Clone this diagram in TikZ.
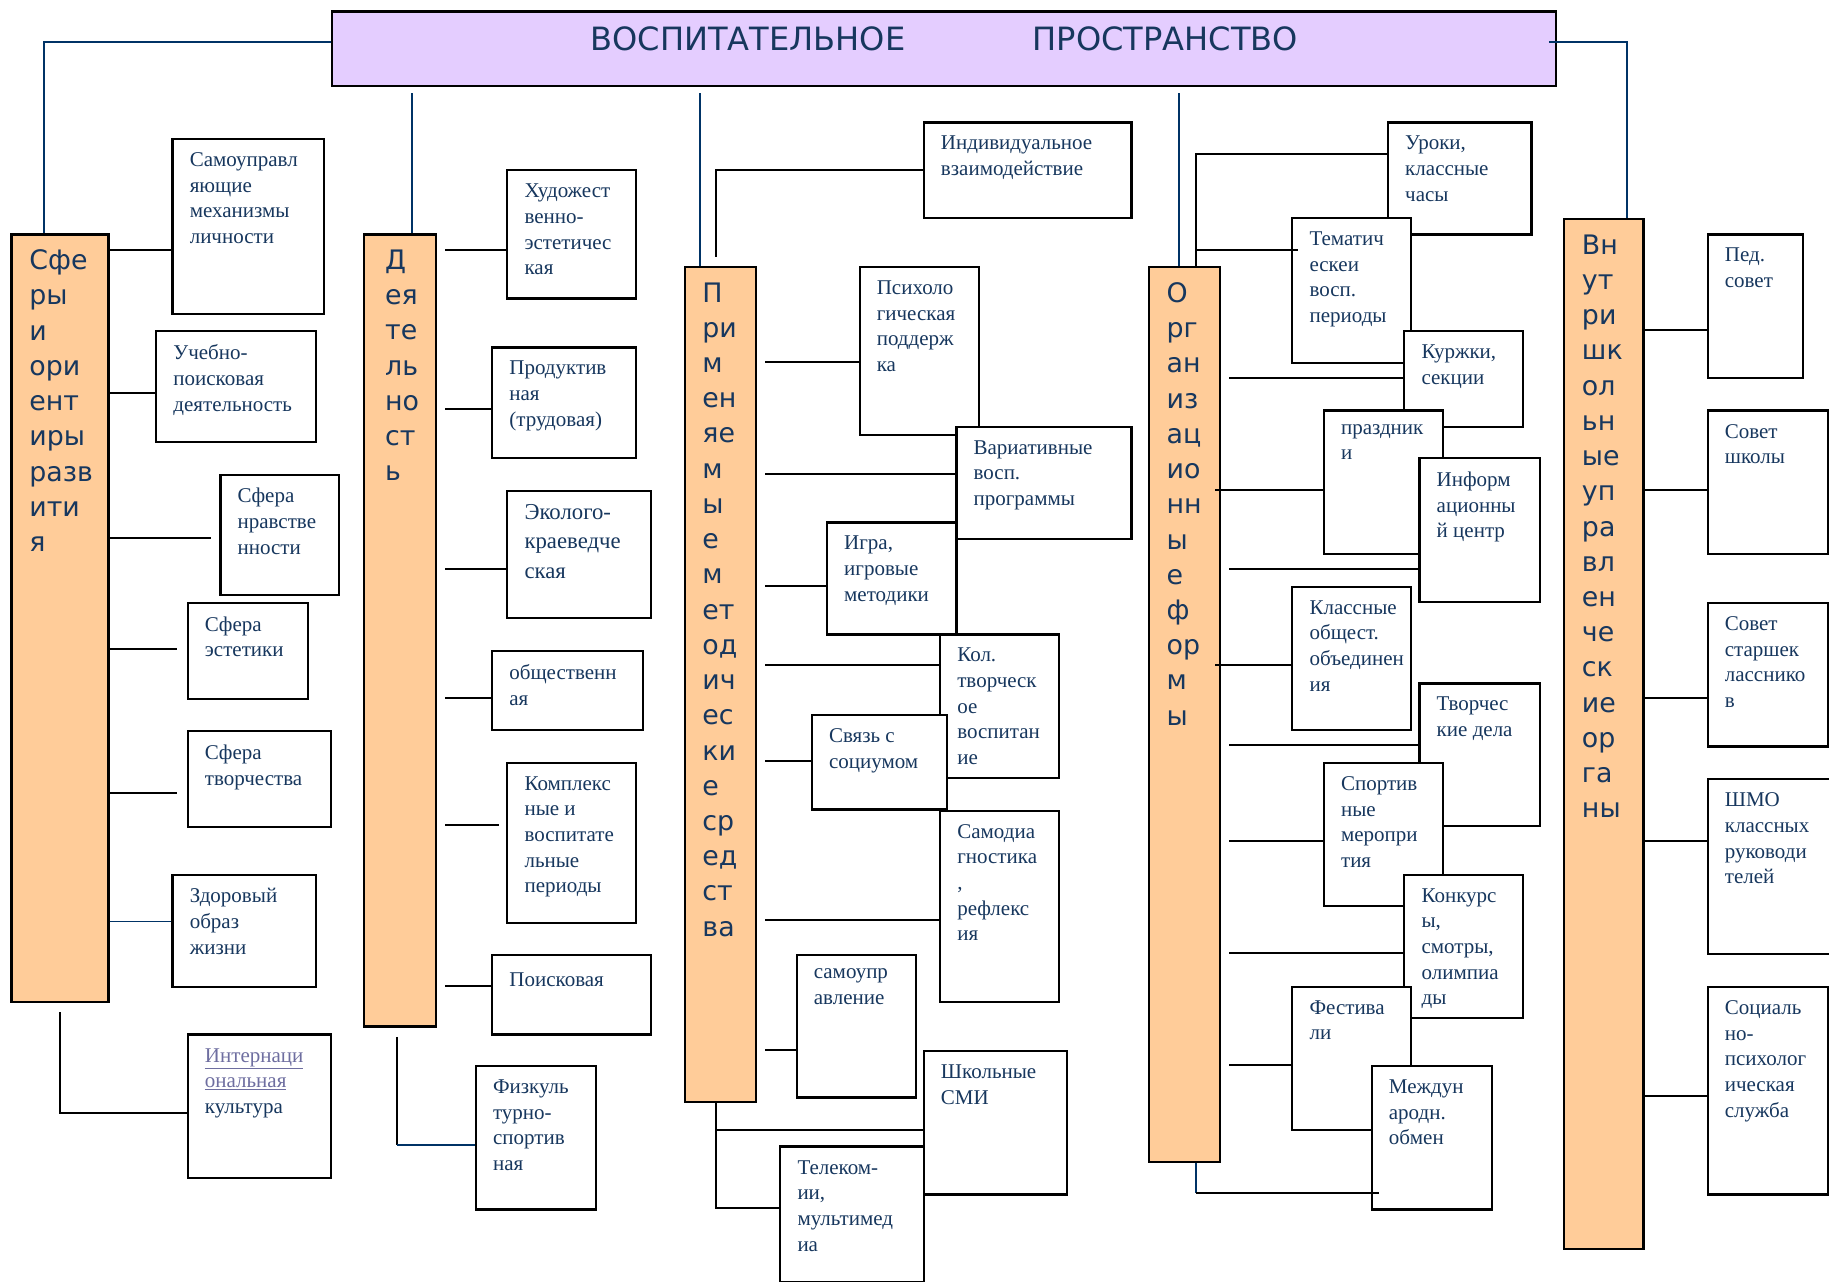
\documentclass[tikz,border=0pt]{standalone}
\usepackage{fontspec}
\usepackage{xcolor}
\usepackage{tikz}
\setmainfont{Liberation Serif}
\newfontfamily\roundfont{DejaVu Sans}
\definecolor{navy}{RGB}{23,55,94}
\definecolor{linkblue}{RGB}{0,51,102}
\definecolor{lilac}{RGB}{228,205,255}
\definecolor{peach}{RGB}{255,204,153}
\definecolor{linkgray}{RGB}{110,110,160}

\begin{document}
\begin{tikzpicture}[x=1pt, y=-1pt,
    cell/.style={draw, line width=1.9pt, fill=white, anchor=north west, inner sep=0pt},
    celltext/.style={anchor=north west, align=left, inner sep=0pt, xshift=15.5pt, yshift=-12.5pt,
        font=\fontsize{18}{22}\selectfont, text=navy, execute at begin node=\strut},
    bar/.style={draw, line width=1.9pt, fill=peach, anchor=north west, inner sep=0pt},
    bartext/.style={anchor=north west, align=left, inner sep=0pt, xshift=16pt, yshift=-14pt,
        font=\roundfont\fontsize{23}{30.2}\selectfont, text=navy, execute at begin node=\strut},
    link/.style={line width=1.7pt},
    bluelink/.style={line width=1.7pt, draw=linkblue}]
    \useasboundingbox (0,0) rectangle (1568,1099);

    % Heading
    \node [draw, line width=1.9pt, fill=lilac, anchor=north west, inner sep=0pt,
        minimum width=1049pt, minimum height=64pt,
        label={[anchor=north, yshift=-10pt, text=navy, font=\roundfont\fontsize{27.5}{33}\selectfont]north:ВОСПИТАТЕЛЬНОЕ\hspace{109pt}ПРОСТРАНСТВО}]
        (title) at (284,9) {};

    % Columns
    \node [bar, minimum width=83pt, minimum height=658pt, label={[bartext]north west:{Сфе\\ры\\и\\ори\\ент\\иры\\разв\\ити\\я}}] (spheres) at (9,200) {};
    \node [bar, minimum width=62pt, minimum height=679pt, label={[bartext, xshift=3pt]north west:{Д\\ея\\те\\ль\\но\\ст\\ь}}] (activity) at (311,200) {};
    \node [bar, minimum width=61pt, minimum height=716pt, label={[bartext]north west:{П\\ри\\м\\ен\\яе\\м\\ы\\е\\м\\ет\\од\\ич\\ес\\ки\\е\\ср\\ед\\ст\\ва}}] (methods) at (586,228) {};
    \node [bar, minimum width=61pt, minimum height=767pt, label={[bartext]north west:{О\\рг\\ан\\из\\ац\\ио\\нн\\ы\\е\\ф\\ор\\м\\ы}}] (forms) at (984,228) {};
    \node [bar, minimum width=68pt, minimum height=883pt, label={[bartext]north west:{Вн\\ут\\ри\\шк\\ол\\ьн\\ые\\уп\\ра\\вл\\ен\\че\\ск\\ие\\ор\\га\\ны}}] (organs) at (1340,187) {};

    % Boxes of the first column
    \node [cell, minimum width=130pt, minimum height=150pt, label={[celltext]north west:{Самоуправл\\яющие\\механизмы\\личности}}] (selfgov) at (147,118) {};
    \node [cell, minimum width=137pt, minimum height=95pt, label={[celltext]north west:{Учебно-\\поисковая\\деятельность}}] (study) at (133,283) {};
    \node [cell, minimum width=102pt, minimum height=103pt, label={[celltext]north west:{Сфера\\нравстве\\нности}}] (morals) at (188,406) {};
    \node [cell, minimum width=103pt, minimum height=82pt, label={[celltext]north west:{Сфера\\эстетики}}] (aesthetics) at (160,516) {};
    \node [cell, minimum width=123pt, minimum height=82pt, label={[celltext]north west:{Сфера\\творчества}}] (creativity) at (160,626) {};
    \node [cell, minimum width=123pt, minimum height=96pt, label={[celltext]north west:{Здоровый\\образ\\жизни}}] (health) at (147,749) {};
    \node [cell, minimum width=123pt, minimum height=123pt, label={[celltext]north west:{\textcolor{linkgray}{\underline{Интернаци}}\\\textcolor{linkgray}{\underline{ональная}}\\культура}}] (intercult) at (160,886) {};

    % Boxes of the second column
    \node [cell, minimum width=110pt, minimum height=110pt, label={[celltext]north west:{Художест\\венно-\\эстетичес\\кая}}] (artaest) at (434,145) {};
    \node [cell, minimum width=123pt, minimum height=95pt, label={[celltext]north west:{Продуктив\\ная\\(трудовая)}}] (labour) at (421,297) {};
    \node [cell, minimum width=123pt, minimum height=109pt, label={[celltext, font=\fontsize{19.5}{25}\selectfont]north west:{Эколого-\\краеведче\\ская}}] (ecology) at (434,420) {};
    \node [cell, minimum width=129pt, minimum height=68pt, label={[celltext]north west:{общественн\\ая}}] (social) at (421,557) {};
    \node [cell, minimum width=110pt, minimum height=137pt, label={[celltext]north west:{Комплекс\\ные и\\воспитате\\льные\\периоды}}] (complex) at (434,653) {};
    \node [cell, minimum width=136pt, minimum height=68pt, label={[celltext]north west:{Поисковая}}] (searching) at (421,818) {};
    \node [cell, minimum width=103pt, minimum height=123pt, label={[celltext]north west:{Физкуль\\турно-\\спортив\\ная}}] (sport) at (407,913) {};

    % Boxes of the third column
    \node [cell, minimum width=178pt, minimum height=82pt, label={[celltext]north west:{Индивидуальное\\взаимодействие}}] (individual) at (791,104) {};
    \node [cell, minimum width=102pt, minimum height=144pt, label={[celltext]north west:{Психоло\\гическая\\поддерж\\ка}}] (psych) at (736,228) {};
    \node [cell, minimum width=150pt, minimum height=96pt, label={[celltext]north west:{Вариативные\\восп.\\программы}}] (variative) at (819,365) {};
    \node [cell, minimum width=111pt, minimum height=96pt, label={[celltext]north west:{Игра,\\игровые\\методики}}] (games) at (708,447) {};
    \node [cell, minimum width=102pt, minimum height=123pt, label={[celltext]north west:{Кол.\\творческ\\ое\\воспитан\\ие}}] (collective) at (805,543) {};
    \node [cell, minimum width=116pt, minimum height=81pt, label={[celltext]north west:{Связь с\\социумом}}] (society) at (695,612) {};
    \node [cell, minimum width=102pt, minimum height=164pt, label={[celltext]north west:{Самодиа\\гностика\\,\\рефлекс\\ия}}] (selfdiag) at (805,694) {};
    \node [cell, minimum width=102pt, minimum height=122pt, label={[celltext]north west:{самоупр\\авление}}] (selfrule) at (682,818) {};
    \node [cell, minimum width=123pt, minimum height=123pt, label={[celltext]north west:{Школьные\\СМИ}}] (media) at (791,900) {};
    \node [cell, minimum width=123pt, minimum height=116pt, label={[celltext]north west:{Телеком-\\ии,\\мультимед\\иа}}] (telecom) at (668,982) {};

    % Boxes of the fourth column
    \node [cell, minimum width=123pt, minimum height=96pt, label={[celltext]north west:{Уроки,\\классные\\часы}}] (lessons) at (1189,104) {};
    \node [cell, minimum width=102pt, minimum height=124pt, label={[celltext]north west:{Тематич\\ескеи\\восп.\\периоды}}] (thematic) at (1107,186) {};
    \node [cell, minimum width=102pt, minimum height=82pt, label={[celltext]north west:{Куржки,\\секции}}] (clubs) at (1203,283) {};
    \node [cell, minimum width=102pt, minimum height=123pt, label={[celltext]north west:{праздник\\и}}] (holidays) at (1134,351) {};
    \node [cell, minimum width=103pt, minimum height=123pt, label={[celltext]north west:{Информ\\ационны\\й центр}}] (infocenter) at (1216,392) {};
    \node [cell, minimum width=102pt, minimum height=123pt, label={[celltext]north west:{Классные\\общест.\\объединен\\ия}}] (unions) at (1107,502) {};
    \node [cell, minimum width=103pt, minimum height=122pt, label={[celltext]north west:{Творчес\\кие дела}}] (creative) at (1216,585) {};
    \node [cell, minimum width=102pt, minimum height=123pt, label={[celltext]north west:{Спортив\\ные\\меропри\\тия}}] (sports) at (1134,653) {};
    \node [cell, minimum width=102pt, minimum height=123pt, label={[celltext]north west:{Конкурс\\ы,\\смотры,\\олимпиа\\ды}}] (contests) at (1203,749) {};
    \node [cell, minimum width=102pt, minimum height=123pt, label={[celltext]north west:{Фестива\\ли}}] (festivals) at (1107,845) {};
    \node [cell, minimum width=103pt, minimum height=123pt, label={[celltext]north west:{Междун\\ародн.\\обмен}}] (exchange) at (1175,913) {};

    % Boxes of the fifth column
    \node [cell, minimum width=82pt, minimum height=123pt, label={[celltext]north west:{Пед.\\совет}}] (pedcouncil) at (1463,200) {};
    \node [cell, minimum width=103pt, minimum height=123pt, label={[celltext]north west:{Совет\\школы}}] (council) at (1463,351) {};
    \node [cell, minimum width=103pt, minimum height=123pt, label={[celltext]north west:{Совет\\старшек\\ласснико\\в}}] (seniors) at (1463,516) {};
    \node [cell, minimum width=107pt, minimum height=150pt, label={[celltext]north west:{ШМО\\классных\\руководи\\телей}}] (shmo) at (1463,667) {};
    \node [cell, minimum width=103pt, minimum height=178pt, label={[celltext]north west:{Социаль\\но-\\психолог\\ическая\\служба}}] (socpsych) at (1463,845) {};

    % Lines from the heading
    \draw [bluelink] (title.west |- 0,36) -| ([xshift=-13.5pt]spheres.north);
    \draw [bluelink] ([xshift=10pt, yshift=-5pt]activity.north |- title.south) -- ([xshift=10pt]activity.north);
    \draw [bluelink] ([xshift=-17.5pt, yshift=-5pt]methods.north |- title.south) -- ([xshift=-17.5pt]methods.north);
    \draw [bluelink] ([xshift=-4.5pt, yshift=-5pt]forms.north |- title.south) -- ([xshift=-4.5pt]forms.north);
    \draw [bluelink] ([xshift=-7pt]title.east |- 0,36) -| ([xshift=20pt]organs.north);

    % Lines of the first column
    \draw [link] (spheres.east |- 0,214) -- (selfgov.west |- 0,214);
    \draw [link] (spheres.east |- 0,337) -- (study.west |- 0,337);
    \draw [link] (spheres.east |- 0,461) -- ([xshift=-7pt]morals.west |- 0,461);
    \draw [link] (spheres.east |- 0,556) -- ([xshift=-8pt]aesthetics.west |- 0,556);
    \draw [link] (spheres.east |- 0,680) -- ([xshift=-8pt]creativity.west |- 0,680);
    \draw [bluelink] (spheres.east |- 0,790) -- (health.west |- 0,790);
    \draw [link] ([yshift=-8pt]spheres.south) |- (intercult.west |- 0,954);

    % Lines of the second column
    \draw [link] ([xshift=7pt]activity.east |- 0,214) -- (artaest.west |- 0,214);
    \draw [link] ([xshift=7pt]activity.east |- 0,351) -- (labour.west |- 0,351);
    \draw [link] ([xshift=7pt]activity.east |- 0,488) -- (ecology.west |- 0,488);
    \draw [link] ([xshift=7pt]activity.east |- 0,598) -- (social.west |- 0,598);
    \draw [link] ([xshift=7pt]activity.east |- 0,707) -- ([xshift=-6pt]complex.west |- 0,707);
    \draw [link] ([xshift=7pt]activity.east |- 0,845) -- (searching.west |- 0,845);
    \draw [link] ([xshift=-3pt, yshift=-8pt]activity.south) -- ([xshift=-3pt]activity.south |- 0,982);
    \draw [bluelink] ([xshift=-3pt]activity.south |- 0,982) -- (sport.west |- 0,982);

    % Lines of the third column
    \draw [link] ([xshift=-3.5pt, yshift=8pt]methods.north) |- (individual.west |- 0,146);
    \draw [link] ([xshift=7pt]methods.east |- 0,310) -- (psych.west |- 0,310);
    \draw [link] ([xshift=7pt]methods.east |- 0,406) -- (variative.west |- 0,406);
    \draw [link] ([xshift=7pt]methods.east |- 0,502) -- (games.west |- 0,502);
    \draw [link] ([xshift=7pt]methods.east |- 0,570) -- (collective.west |- 0,570);
    \draw [link] ([xshift=7pt]methods.east |- 0,652) -- (society.west |- 0,652);
    \draw [link] ([xshift=7pt]methods.east |- 0,789) -- (selfdiag.west |- 0,789);
    \draw [link] ([xshift=7pt]methods.east |- 0,900) -- (selfrule.west |- 0,900);
    \draw [link] ([xshift=-3.5pt]methods.south) |- (telecom.west |- 0,1036);
    \draw [link] ([xshift=-3.5pt]methods.south |- 0,969) -- (media.west |- 0,969);

    % Lines of the fourth column
    \draw [link] ([xshift=9.5pt]forms.north) |- (lessons.west |- 0,132);
    \draw [link] ([xshift=9.5pt]forms.north |- 0,214) -- ([xshift=6pt]thematic.west |- 0,214);
    \draw [link] ([xshift=7pt]forms.east |- 0,324) -- (clubs.west |- 0,324);
    \draw [link] ([xshift=-5pt]forms.east |- 0,420) -- (holidays.west |- 0,420);
    \draw [link] ([xshift=7pt]forms.east |- 0,488) -- (infocenter.west |- 0,488);
    \draw [link] ([xshift=-5pt]forms.east |- 0,570) -- (unions.west |- 0,570);
    \draw [link] ([xshift=7pt]forms.east |- 0,639) -- (creative.west |- 0,639);
    \draw [link] ([xshift=7pt]forms.east |- 0,721) -- (sports.west |- 0,721);
    \draw [link] ([xshift=7pt]forms.east |- 0,817) -- (contests.west |- 0,817);
    \draw [link] ([xshift=7pt]forms.east |- 0,913) -- (festivals.west |- 0,913);
    \draw [bluelink] ([xshift=9.5pt]forms.south) -- ([xshift=9.5pt]forms.south |- 0,1023);
    \draw [link] ([xshift=9.5pt]forms.south |- 0,1023) -- ([xshift=7pt]exchange.west |- 0,1023);

    % Lines of the fifth column
    \draw [link] (organs.east |- 0,283) -- (pedcouncil.west |- 0,283);
    \draw [link] (organs.east |- 0,420) -- (council.west |- 0,420);
    \draw [link] (organs.east |- 0,598) -- (seniors.west |- 0,598);
    \draw [link] (organs.east |- 0,721) -- (shmo.west |- 0,721);
    \draw [link] (organs.east |- 0,940) -- (socpsych.west |- 0,940);
\end{tikzpicture}
\end{document}
